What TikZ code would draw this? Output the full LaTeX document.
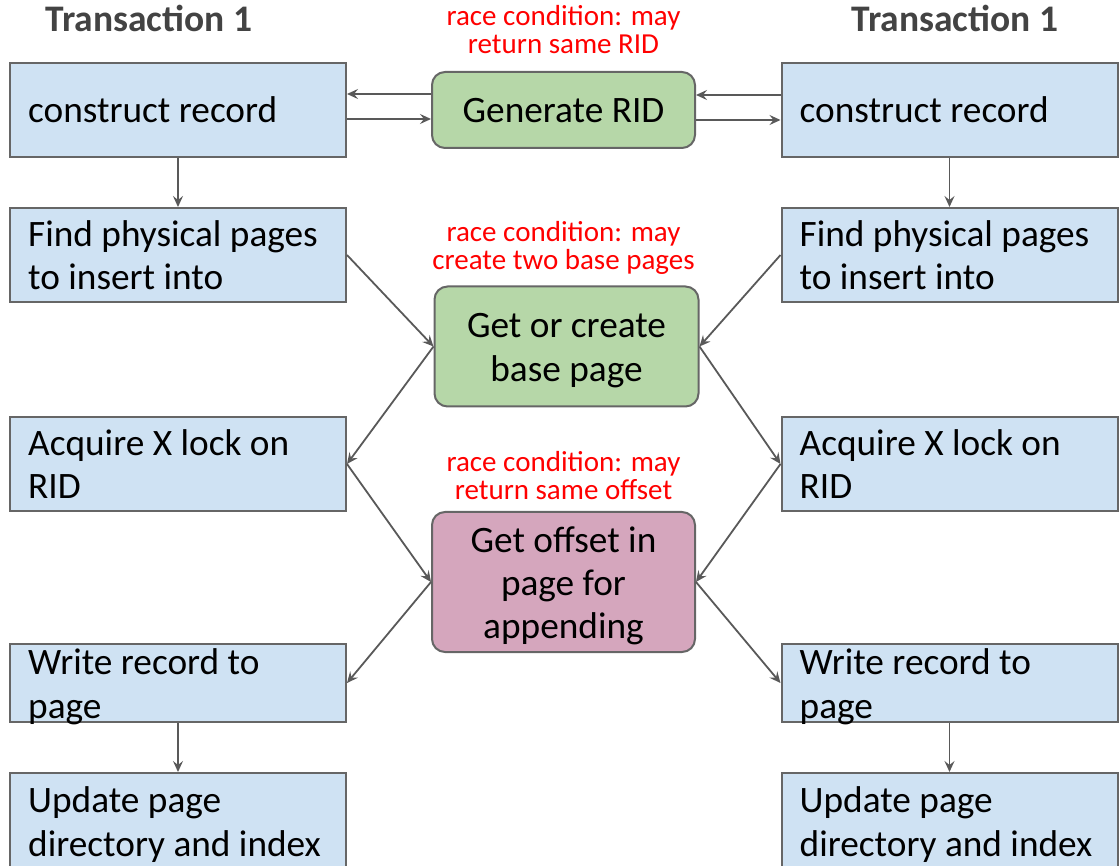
\documentclass[tikz,border=0pt]{standalone}
\usepackage{fontspec}
\setmainfont{Carlito}
\usetikzlibrary{arrows.meta}

\definecolor{boxblue}{HTML}{CFE2F3}
\definecolor{boxgreen}{HTML}{B6D7A8}
\definecolor{boxpink}{HTML}{D5A6BD}
\definecolor{edgegray}{HTML}{666666}
\definecolor{arrowgray}{HTML}{595959}
\definecolor{titlegray}{HTML}{434343}
\definecolor{racered}{HTML}{FF0000}

\newcommand\boxfont{\fontsize{37.3}{43.5}\selectfont}
\newcommand\notefont{\fontsize{29}{27.5}\selectfont}
\newcommand\headfont{\fontsize{37.5}{40}\selectfont\bfseries}

\begin{document}
\begin{tikzpicture}[x=1pt,y=-1pt,
  stepbox/.style={draw=edgegray, line width=2pt, fill=boxblue,
    minimum width=336pt, minimum height=94pt, inner sep=0pt},
  sharedbox/.style={draw=edgegray, line width=2pt, rounded corners=13pt,
    inner sep=0pt},
  ltext/.style={anchor=base west, inner sep=0pt, font=\boxfont, xshift=-150pt},
  ctext/.style={anchor=base, inner sep=0pt, font=\boxfont},
  racenote/.style={anchor=base, inner sep=0pt, font=\notefont, text=racered},
  heading/.style={anchor=base, inner sep=0pt, font=\headfont, text=titlegray},
  arr/.style={draw=arrowgray, line width=1.8pt,
    -{Stealth[length=11pt,width=10pt,inset=4pt]}}
]
\useasboundingbox (0,0) rectangle (1120,866);

% column headings
\node[heading] (hl) at (149,32) {Transaction 1};
\node[heading] (hr) at (955,32) {Transaction 1};

% left transaction steps
\node[stepbox] (L1) at (178,110) {};
\node[stepbox] (L2) at (178,255) {};
\node[stepbox] (L3) at (178,464) {};
\node[stepbox, minimum height=78pt] (L4) at (178,683) {};
\node[stepbox, minimum height=96pt] (L5) at (178,821) {};

% right transaction steps
\node[stepbox] (R1) at (949.5,110) {};
\node[stepbox] (R2) at (949.5,255) {};
\node[stepbox] (R3) at (949.5,464) {};
\node[stepbox, minimum height=78pt] (R4) at (949.5,683) {};
\node[stepbox, minimum height=96pt] (R5) at (949.5,821) {};

% shared operations
\node[sharedbox, fill=boxgreen, minimum width=263pt, minimum height=76pt] (G1) at (563.5,110) {};
\node[sharedbox, fill=boxgreen, minimum width=264pt, minimum height=120pt] (G2) at (566.5,346.5) {};
\node[sharedbox, fill=boxpink, minimum width=263pt, minimum height=140pt] (G3) at (563.5,582) {};

% step labels
\foreach \c in {L,R}{
  \node[ltext, yshift=-13pt] at (\c1.center) {\parbox[t]{320pt}{\raggedright construct record}};
  \node[ltext, yshift=8.5pt] at (\c2.center) {\parbox[t]{320pt}{\raggedright Find physical pages\\to insert into}};
  \node[ltext, yshift=8.5pt] at (\c3.center) {\parbox[t]{320pt}{\raggedright Acquire X lock on\\RID}};
  \node[ltext, yshift=8.5pt] at (\c4.center) {\parbox[t]{320pt}{\raggedright Write record to\\page}};
  \node[ltext, yshift=8.5pt] at (\c5.center) {\parbox[t]{320pt}{\raggedright Update page\\directory and index}};
}

% shared operation labels
\node[ctext, yshift=-13pt] at (G1.center) {Generate RID};
\node[ctext, yshift=8.5pt] at (G2.center) {\parbox[t]{260pt}{\centering Get or create\\base page}};
\node[ctext, yshift=30pt] at (G3.center) {\parbox[t]{260pt}{\centering Get offset in\\page for\\appending}};

% race condition notes
\node[racenote] (n1) at (563.5,26) {\parbox[t]{300pt}{\centering race condition: may\\return same RID}};
\node[racenote] (n2) at (563.5,242) {\parbox[t]{300pt}{\centering race condition: may\\create two base pages}};
\node[racenote] (n3) at (563.5,472) {\parbox[t]{300pt}{\centering race condition: may\\return same offset}};

% RID generation round trips
\draw[arr] ([yshift=-9pt]L1.east) -- ([yshift=-9pt]G1.west);
\draw[arr] ([yshift=16pt]G1.west) -- ([yshift=16pt]L1.east);
\draw[arr] ([yshift=15pt]R1.west) -- ([yshift=15pt]G1.east);
\draw[arr] ([yshift=-10pt]G1.east) -- ([yshift=-10pt]R1.west);

% vertical steps
\draw[arr] (L1.south) -- (L2.north);
\draw[arr] (R1.south) -- (R2.north);
\draw[arr] (L4.south) -- (L5.north);
\draw[arr] (R4.south) -- (R5.north);

% left transaction through shared operations
\draw[arr] (L2.east) -- (G2.west);
\draw[arr] (G2.west) -- (L3.east);
\draw[arr] (L3.east) -- (G3.west);
\draw[arr] (G3.west) -- (L4.east);

% right transaction through shared operations
\draw[arr] (R2.west) -- (G2.east);
\draw[arr] (G2.east) -- (R3.west);
\draw[arr] (R3.west) -- (G3.east);
\draw[arr] (G3.east) -- (R4.west);
\end{tikzpicture}
\end{document}
